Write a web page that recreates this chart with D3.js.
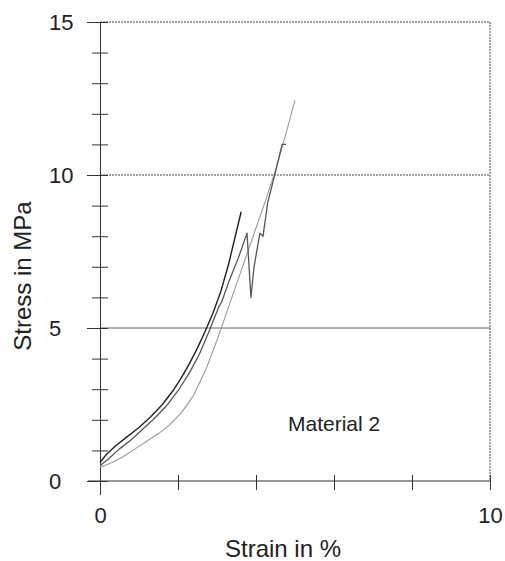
<html>
<head>
<script src="https://d3js.org/d3.v7.min.js"></script>
<style>
  body { margin: 0; background: #fff; }
  text { font-family: "Liberation Sans", Arial, sans-serif; fill: #222; }
</style>
</head>
<body>
<svg id="chart" width="505" height="561"></svg>
<script>
// curve A - dark, ends around 3.6 %
var strainA = [0, 0.15, 0.4, 0.7, 1.0, 1.3, 1.6, 1.9, 2.1, 2.3, 2.5, 2.7, 2.9, 3.1, 3.3, 3.45, 3.62]
var stressA = [0.6, 0.85, 1.15, 1.45, 1.75, 2.1, 2.5, 3.0, 3.4, 3.85, 4.35, 4.9, 5.5, 6.2, 7.1, 7.9, 8.8]

// curve B - mid grey, with the drop near 3.8 %
var strainB = [0, 0.2, 0.5, 0.8, 1.1, 1.4, 1.7, 2.0, 2.3, 2.55, 2.8, 3.05, 3.12, 3.3, 3.55, 3.77, 3.87, 3.95, 4.1, 4.18, 4.3, 4.5, 4.67, 4.77]
var stressB = [0.5, 0.7, 1.05, 1.35, 1.7, 2.05, 2.45, 2.95, 3.55, 4.15, 4.9, 5.7, 5.85, 6.5, 7.3, 8.1, 6.0, 7.0, 8.1, 8.0, 9.1, 10.1, 11.0, 11.0]

// curve C - light grey, smooth
var strainC = [0, 0.3, 0.6, 0.9, 1.2, 1.5, 1.8, 2.1, 2.4, 2.7, 3.0, 3.3, 3.6, 3.9, 4.2, 4.5, 4.8, 5.0]
var stressC = [0.45, 0.6, 0.8, 1.05, 1.3, 1.55, 1.85, 2.25, 2.8, 3.6, 4.6, 5.7, 6.8, 7.9, 9.0, 10.15, 11.5, 12.45]

var yTicks = [0, 1, 2, 3, 4, 5, 6, 7, 8, 9, 10, 11, 12, 13, 14, 15]
var xTicks = [0, 2, 4, 6, 8, 10]
var gridLevels = [5, 10, 15]

var svg = d3.select("#chart")
var x = d3.scaleLinear().domain([0, 10]).range([100, 490])
var y = d3.scaleLinear().domain([0, 15]).range([481, 22])

// horizontal grid lines, 5 solid, 10 and 15 dotted
svg.selectAll(".grid")
    .data(gridLevels)
    .enter().append("line")
    .attr("x1", x(0)).attr("x2", x(10))
    .attr("y1", d => y(d)).attr("y2", d => y(d))
    .attr("stroke", d => d == 5 ? "#666" : "#444")
    .attr("stroke-width", 1)
    .attr("stroke-dasharray", d => d == 5 ? null : "2,1")

// right border
svg.append("line")
    .attr("x1", x(10)).attr("x2", x(10))
    .attr("y1", y(15)).attr("y2", y(0))
    .attr("stroke", "#444")
    .attr("stroke-dasharray", "2,1")

// y axis
svg.append("g")
    .attr("transform", "translate(" + x(0) + ",0)")
    .call(d3.axisLeft(y).tickValues(yTicks).tickFormat(d => d % 5 == 0 ? d : ""))
    .call(g => g.select(".domain").attr("stroke", "#333"))
    .call(g => g.selectAll(".tick line")
        .attr("x1", 8).attr("x2", d => d % 5 == 0 ? -13 : -8)
        .attr("stroke", "#333"))
    .call(g => g.selectAll(".tick text")
        .attr("x", -51).attr("text-anchor", "start")
        .attr("font-size", 22).attr("dy", "0.36em")
        .style("font-family", "'Liberation Sans', Arial, sans-serif")
        .attr("fill", "#222"))

// x axis
svg.append("g")
    .attr("transform", "translate(0," + y(0) + ")")
    .call(d3.axisBottom(x).tickValues(xTicks).tickFormat(d => d % 10 == 0 ? d : ""))
    .call(g => g.select(".domain").remove())
    .call(g => g.selectAll(".tick line")
        .attr("y1", d => d == 0 ? -9 : -6).attr("y2", d => d == 0 ? 14 : 9)
        .attr("stroke", "#333"))
    .call(g => g.selectAll(".tick text")
        .attr("y", 42).attr("dy", null)
        .attr("font-size", 22)
        .style("font-family", "'Liberation Sans', Arial, sans-serif")
        .attr("fill", "#222"))

svg.append("line")
    .attr("x1", x(0) - 12).attr("x2", x(10))
    .attr("y1", y(0)).attr("y2", y(0))
    .attr("stroke", "#333")

// curves
var line = d3.line()
    .x(d => x(d[0]))
    .y(d => y(d[1]))

var curves = [
    { s: strainC, v: stressC, color: "#9a9a9a", w: 1.1 },
    { s: strainB, v: stressB, color: "#555", w: 1.3 },
    { s: strainA, v: stressA, color: "#222", w: 1.4 }
]

svg.selectAll(".curve")
    .data(curves)
    .enter().append("path")
    .attr("d", c => line(d3.zip(c.s, c.v)))
    .attr("fill", "none")
    .attr("stroke", c => c.color)
    .attr("stroke-width", c => c.w)
    .attr("stroke-linejoin", "round")

// labels
svg.append("text")
    .attr("x", 288).attr("y", 431)
    .attr("font-size", 21)
    .text("Material 2")

svg.append("text")
    .attr("x", 283).attr("y", 557)
    .attr("text-anchor", "middle")
    .attr("font-size", 24)
    .text("Strain in %")

svg.append("text")
    .attr("transform", "translate(31,276) rotate(-90)")
    .attr("text-anchor", "middle")
    .attr("font-size", 24)
    .text("Stress in MPa")
</script>
</body>
</html>
